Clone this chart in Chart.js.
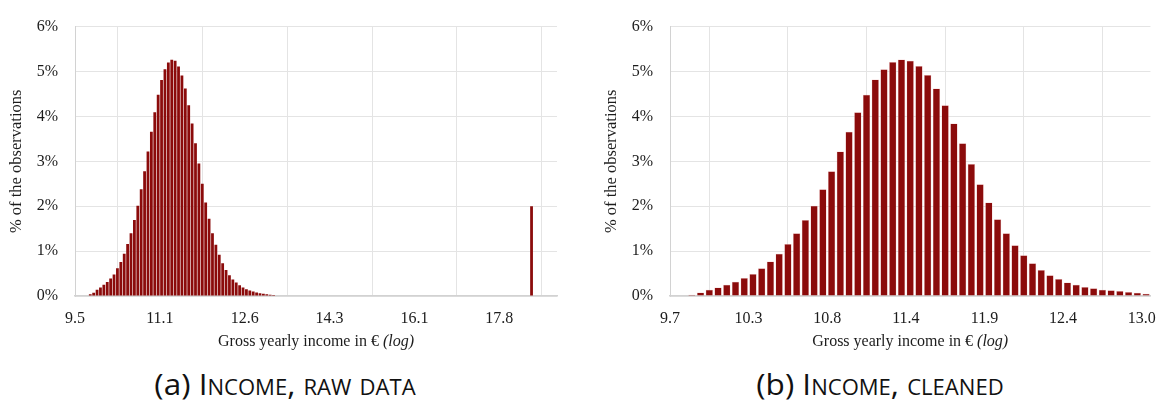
<!DOCTYPE html>
<html>
<head>
<meta charset="utf-8">
<script src="https://cdn.jsdelivr.net/npm/chart.js@4"></script>
<style>
  html, body { margin: 0; padding: 0; background: #fff; }
  body { width: 1169px; height: 405px; position: relative; overflow: hidden; }
  .panel { position: absolute; top: 0; height: 362px; }
  #left-panel { left: 0; width: 585px; }
  #right-panel { left: 585px; width: 584px; }
  .caption {
    position: absolute; top: 364px; width: 500px; text-align: center;
    font-family: "Open Sans", sans-serif; font-size: 30px; color: #111;
    white-space: nowrap; line-height: 40px;
    transform: scaleX(1.05);
  }
  .caption .sc { font-variant: small-caps; }
  #cap-a { left: 35px; }
  #cap-b { left: 630px; }
</style>
</head>
<body>
<div class="panel" id="left-panel"><canvas id="leftChart"></canvas></div>
<div class="panel" id="right-panel"><canvas id="rightChart"></canvas></div>
<div class="caption" id="cap-a">(a) <span class="sc">Income, raw data</span></div>
<div class="caption" id="cap-b">(b) <span class="sc">Income, cleaned</span></div>
<script>
document.addEventListener('DOMContentLoaded', function() {
    // Raw data histogram: share of observations (%) per bin, starting at bin 4
    const leftFirstBin = 4;
    const leftValues = [
        0.04, 0.07, 0.14, 0.19, 0.25, 0.31, 0.39, 0.48, 0.62, 0.76,
        0.94, 1.16, 1.40, 1.69, 2.01, 2.38, 2.78, 3.22, 3.66, 4.09,
        4.48, 4.81, 5.05, 5.20, 5.26, 5.24, 5.11, 4.91, 4.62, 4.25,
        3.84, 3.40, 2.95, 2.50, 2.08, 1.72, 1.40, 1.14, 0.92, 0.73,
        0.58, 0.46, 0.37, 0.30, 0.24, 0.19, 0.15, 0.12, 0.10, 0.08,
        0.06, 0.05, 0.04, 0.03, 0.02, 0.01
    ];
    // the lone spike far to the right
    const leftOutlierBin = 134;
    const leftOutlierValue = 2.0;
    const leftBinCount = 142;
    const leftTickStep = 25;
    const leftTickLabels = ['9.5', '11.1', '12.6', '14.3', '16.1', '17.8'];

    // Cleaned histogram, starting at bin 2
    const rightFirstBin = 2;
    const rightValues = [
        0.03, 0.08, 0.14, 0.19, 0.25, 0.32, 0.40, 0.49, 0.62, 0.77,
        0.94, 1.16, 1.40, 1.69, 2.01, 2.38, 2.78, 3.22, 3.66, 4.09,
        4.48, 4.82, 5.05, 5.21, 5.27, 5.24, 5.12, 4.92, 4.62, 4.25,
        3.84, 3.40, 2.94, 2.49, 2.08, 1.71, 1.40, 1.13, 0.91, 0.73,
        0.58, 0.46, 0.38, 0.30, 0.25, 0.20, 0.17, 0.14, 0.13, 0.11,
        0.09, 0.07, 0.05
    ];
    const rightBinCount = 55;
    const rightTickStep = 9;
    const rightTickLabels = ['9.7', '10.3', '10.8', '11.4', '11.9', '12.4', '13.0'];

    const yTickLabels = ['0%', '1%', '2%', '3%', '4%', '5%', '6%'];
    const yTitle = '% of the observations';
    const xTitleMain = 'Gross yearly income in € ';
    const xTitleItalic = '(log)';

    const serif = '"Liberation Serif", "DejaVu Serif", serif';
    const textColor = '#1c1c1c';
    const gridColor = '#e4e4e4';
    const axisColor = '#d2d2d2';
    const barColor = '#8b0b0b';
    const barEdge = 'rgba(236, 180, 180, 0.9)';

    // Draws the axis titles (x title has an italic part)
    const axisTitles = {
        id: 'axisTitles',
        afterDraw(chart) {
            const { ctx, chartArea } = chart;
            ctx.save();
            ctx.fillStyle = textColor;
            ctx.font = '16.5px ' + serif;
            ctx.textAlign = 'center';
            ctx.textBaseline = 'middle';
            ctx.translate(chartArea.left - 58, (chartArea.top + chartArea.bottom) / 2);
            ctx.rotate(-Math.PI / 2);
            ctx.fillText(yTitle, 0, 0);
            ctx.restore();

            ctx.save();
            ctx.fillStyle = textColor;
            ctx.textBaseline = 'middle';
            ctx.textAlign = 'left';
            ctx.font = '16px ' + serif;
            const w1 = ctx.measureText(xTitleMain).width;
            ctx.font = 'italic 16px ' + serif;
            const w2 = ctx.measureText(xTitleItalic).width;
            const cx = (chartArea.left + chartArea.right) / 2;
            const y = chartArea.bottom + 46;
            const x0 = cx - (w1 + w2) / 2;
            ctx.font = '16px ' + serif;
            ctx.fillText(xTitleMain, x0, y);
            ctx.font = 'italic 16px ' + serif;
            ctx.fillText(xTitleItalic, x0 + w1, y);
            ctx.restore();
        }
    };

    function makeChart(canvas, points, binCount, tickStep, tickLabels, yWidth, padRight, barPct, edgeWidth) {
        return new Chart(canvas, {
            type: 'bar',
            data: {
                datasets: [{
                    data: points,
                    backgroundColor: barColor,
                    borderColor: barEdge,
                    borderWidth: edgeWidth,
                    borderSkipped: 'start',
                    barPercentage: barPct,
                    categoryPercentage: 1.0
                }]
            },
            options: {
                responsive: true,
                maintainAspectRatio: false,
                animation: false,
                layout: { padding: { top: 18, right: padRight, left: 0, bottom: 0 } },
                plugins: {
                    legend: { display: false },
                    tooltip: { enabled: false }
                },
                scales: {
                    x: {
                        type: 'linear',
                        min: 0,
                        max: binCount,
                        offset: false,
                        afterBuildTicks: function(scale) {
                            scale.ticks = tickLabels.map((_, i) => ({ value: i * tickStep }));
                        },
                        afterFit: function(scale) {
                            scale.height = 66;
                        },
                        ticks: {
                            autoSkip: false,
                            maxRotation: 0,
                            padding: 13,
                            color: textColor,
                            font: { family: serif, size: 16 },
                            callback: function(value, index) {
                                return tickLabels[index];
                            }
                        },
                        grid: { color: gridColor, drawTicks: false, lineWidth: 1 },
                        border: { display: true, color: axisColor, width: 1.5 }
                    },
                    y: {
                        min: 0,
                        max: 6,
                        afterBuildTicks: function(scale) {
                            scale.ticks = yTickLabels.map((_, i) => ({ value: i }));
                        },
                        afterFit: function(scale) {
                            scale.width = yWidth;
                        },
                        ticks: {
                            padding: 17,
                            color: textColor,
                            font: { family: serif, size: 16 },
                            callback: function(value, index) {
                                return yTickLabels[index];
                            }
                        },
                        grid: { color: gridColor, drawTicks: false, lineWidth: 1 },
                        border: { display: true, color: axisColor, width: 1 }
                    }
                }
            },
            plugins: [axisTitles]
        });
    }

    // Build bar points at bin centres
    const leftPoints = leftValues.map((v, i) => ({ x: leftFirstBin + i + 0.5, y: v }));
    leftPoints.push({ x: leftOutlierBin + 0.5, y: leftOutlierValue });
    const rightPoints = rightValues.map((v, i) => ({ x: rightFirstBin + i + 0.5, y: v }));

    makeChart(document.getElementById('leftChart'), leftPoints, leftBinCount,
        leftTickStep, leftTickLabels, 75, 28, 0.82, 0);
    makeChart(document.getElementById('rightChart'), rightPoints, rightBinCount,
        rightTickStep, rightTickLabels, 85, 16, 0.84, 0.5);
});
</script>
</body>
</html>
